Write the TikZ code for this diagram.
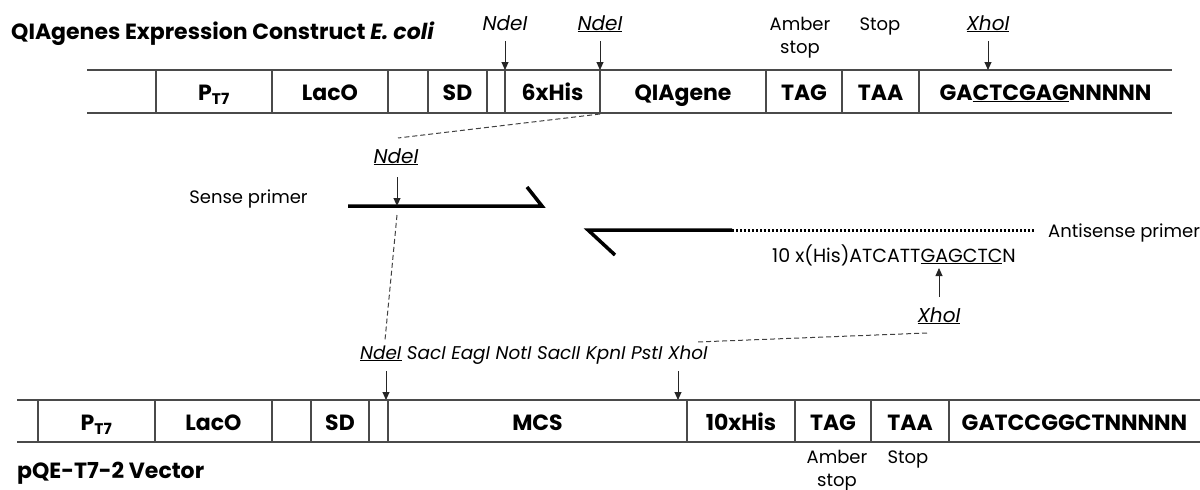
\documentclass[tikz,border=0pt]{standalone}
\usepackage{fontspec}
\setmainfont{Poppins}
\usetikzlibrary{arrows.meta,positioning}
\definecolor{bline}{HTML}{4A4A4A}
\tikzset{
  cell/.style={font=\fontsize{22}{22}\selectfont\bfseries, inner sep=0pt, anchor=base},
  lbl/.style={font=\fontsize{18}{23}\selectfont, inner sep=0pt, align=center, anchor=base},
  enz/.style={font=\fontsize{20}{20}\selectfont\itshape, inner sep=0pt, anchor=base},
  cut/.style={-{Triangle[length=8pt,width=7pt]}, line width=0.9pt, black!85},
  link/.style={line width=1pt, black!75, dash pattern=on 5pt off 3pt},
  strand/.style={line width=3.5pt, line join=miter},
  tail/.style={line width=3pt, dash pattern=on 2pt off 2pt},
  bar/.style={line width=1.3pt, bline},
}

\begin{document}
\begin{tikzpicture}[x=1pt, y=-1pt]
  \useasboundingbox (0,0) rectangle (1200,490);

  % construct
  \node[font=\fontsize{22}{22}\selectfont\bfseries, anchor=base west, inner sep=0pt] (title) at (11,39)
    {QIAgenes Expression Construct \textit{E. coli}};
  \draw[bar] (87,70) -- (1172,70) (87,113) -- (1172,113);
  \foreach \x in {156,272,388,428,487,505,600,766,842,919}
    \draw[bar] (\x,70) -- (\x,113);
  \foreach \x/\t/\n in {214/{P\textsubscript{T7}}/tpro, 330/LacO/tlac, 457.5/SD/tsd,
      552.5/6xHis/this, 683/QIAgene/tgene, 804/TAG/ttag, 880.5/TAA/ttaa,
      1045.5/{GA\underline{CTCGAG}NNNNN}/tend}
    \node[cell] (\n) at (\x,100) {\t};

  \node[enz] (tnde) at (505,30) {NdeI};
  \node[enz] (tnde2) at (600,30) {\underline{NdeI}};
  \node[lbl] (tamb) at (800,53) {Amber\\stop};
  \node[lbl] (tstop) at (880,30) {Stop};
  \node[enz] (txho) at (988,30) {\underline{XhoI}};
  \coordinate (tndecut) at (505,70);
  \coordinate (tnde2cut) at (600,70);
  \coordinate (txhocut) at (988,70);
  \draw[cut] (505,41) -- (tndecut);
  \draw[cut] (600,41) -- (tnde2cut);
  \draw[cut] (988,41) -- (txhocut);

  % primers
  \coordinate (tnde2low) at (600,114);
  \coordinate (pndetop) at (398,138);
  \draw[link] (tnde2low) -- (pndetop);

  \node[lbl] (sense) at (248.5,203) {Sense primer};
  \coordinate (s0) at (348,206);
  \coordinate (s1) at (542,206);
  \coordinate (s2) at (527,187);
  \draw[strand] (s0) -- (s1) -- (s2);
  \node[enz] (pnde) at (396,163) {\underline{NdeI}};
  \coordinate (pndecut) at (397,206);
  \draw[cut] (397,177) -- (pndecut);
  \coordinate (pndelow) at (397,215);
  \coordinate (mndetop) at (385,340);
  \draw[link] (pndelow) -- (mndetop);

  \coordinate (a0) at (615,255);
  \coordinate (a1) at (588,230);
  \coordinate (a2) at (732,230);
  \coordinate (a3) at (1035,230);
  \draw[strand] (a0) -- (a1) -- (a2);
  \draw[tail] (a2) -- (a3);
  \node[lbl, anchor=base west] (anti) at (1048,237) {Antisense primer};
  \node[lbl, font=\fontsize{19}{19}\selectfont, anchor=base west] (seq) at (772,262)
    {10 x(His)ATCATT\underline{GAGCTC}N};
  \node[enz] (pxho) at (939,322) {\underline{XhoI}};
  \coordinate (pxhocut) at (939,268);
  \draw[cut] (939,297) -- (pxhocut);
  \coordinate (pxholow) at (927,333);
  \coordinate (mxhotop) at (697,342);
  \draw[link] (pxholow) -- (mxhotop);

  % vector
  \node[enz, font=\fontsize{18.4}{18.4}\selectfont\itshape, anchor=base west] (mcs) at (360,359)
    {\underline{NdeI} SacI EagI NotI SacII KpnI PstI XhoI};
  \coordinate (mnde0) at (386,371);
  \coordinate (mnde1) at (386,400);
  \coordinate (mxho0) at (678,371);
  \coordinate (mxho1) at (678,400);
  \draw[cut] (mnde0) -- (mnde1);
  \draw[cut] (mxho0) -- (mxho1);

  \draw[bar] (17,400) -- (1200,400) (17,442) -- (1200,442);
  \foreach \x in {38,155,272,311,369,388,687,795,871,949}
    \draw[bar] (\x,400) -- (\x,442);
  \foreach \x/\t/\n in {96.5/{P\textsubscript{T7}}/bpro, 213.5/LacO/blac, 340/SD/bsd,
      537.5/MCS/bmcs, 741/10xHis/bhis, 833/TAG/btag, 910/TAA/btaa,
      1074.5/GATCCGGCTNNNNN/bend}
    \node[cell] (\n) at (\x,430) {\t};
  \node[lbl] (bamb) at (837,486) {Amber\\stop};
  \node[lbl] (bstop) at (908,463) {Stop};
  \node[font=\fontsize{22}{22}\selectfont\bfseries, anchor=base west, inner sep=0pt] (vec) at (17,478)
    {pQE-T7-2 Vector};
\end{tikzpicture}
\end{document}
